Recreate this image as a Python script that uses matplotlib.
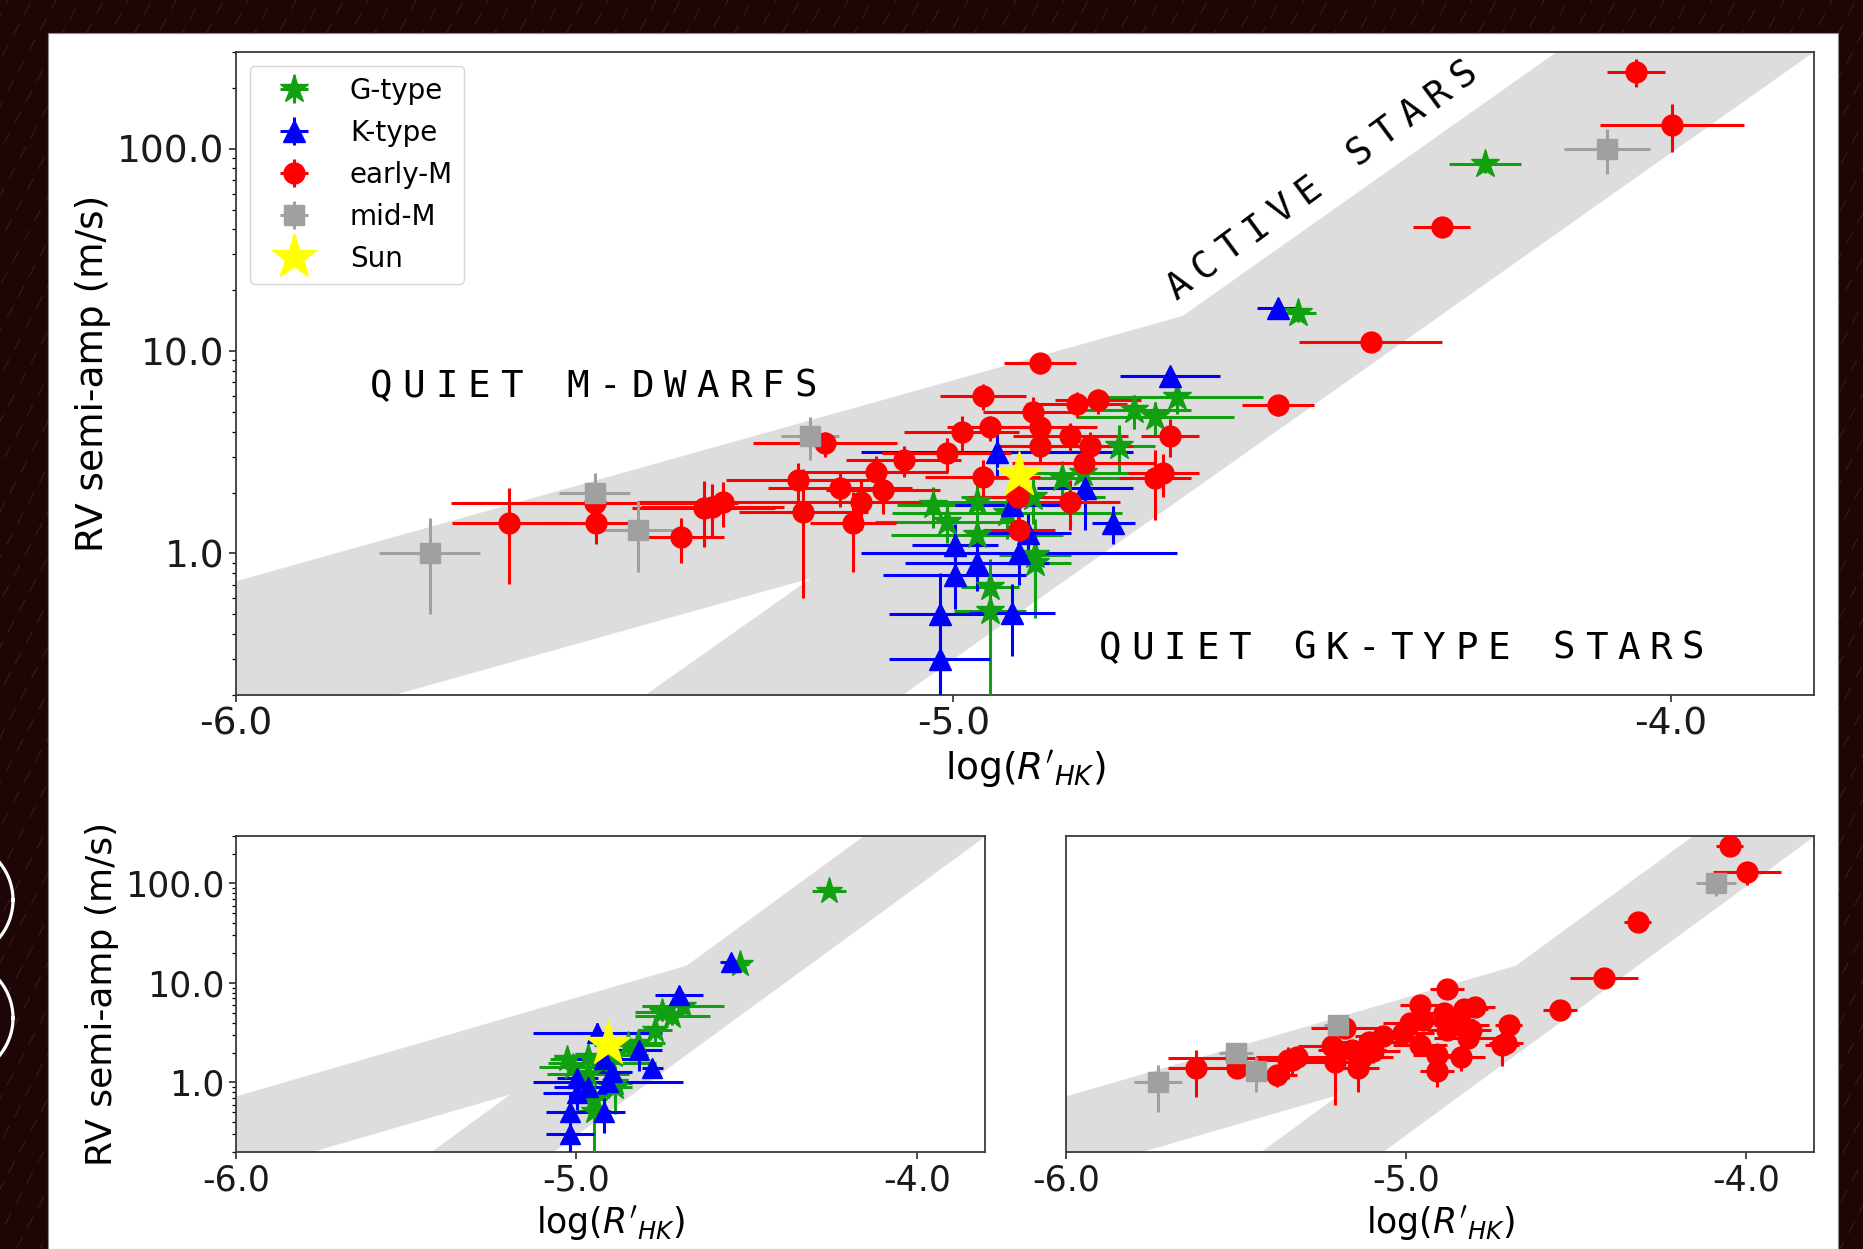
import numpy as np
import matplotlib
matplotlib.use("Agg")
import matplotlib.pyplot as plt
from matplotlib.patches import Rectangle
from matplotlib.lines import Line2D
from matplotlib.ticker import FixedLocator, FixedFormatter, LogLocator, NullFormatter

plt.rcParams['axes.unicode_minus'] = False
plt.rcParams['font.family'] = ['DejaVu Sans']

# ---------------- data ----------------
# G-type stars
g_x = [-4.259, -4.519, -4.688, -4.748, -4.719, -4.769, -4.849, -4.819, -5.028,
       -4.967, -5.009, -4.925, -4.889, -4.967, -4.886, -4.886, -4.949, -4.949]
g_y = [84, 15.4, 5.9, 5.1, 4.7, 3.4, 2.37, 2.5, 1.74,
       1.8, 1.43, 1.58, 1.9, 1.23, 0.98, 0.9, 0.68, 0.52]
g_xe = [0.05, 0.025, 0.12, 0.08, 0.11, 0.05, 0.10, 0.08, 0.05,
        0.10, 0.10, 0.16, 0.10, 0.12, 0.05, 0.05, 0.04, 0.05]
g_ye = [8, 1.5, 1.0, 1.0, 0.9, 0.9, 0.5, 0.6, 0.4,
        0.4, 0.3, 0.4, 0.5, 0.3, 0.5, 0.3, 0.15, 0.42]

# K-type stars
k_x = [-4.547, -4.698, -4.939, -4.816, -4.918, -4.777, -4.896, -4.998, -4.908,
       -4.967, -4.998, -5.019, -4.918, -5.019]
k_y = [16.3, 7.5, 3.17, 2.1, 1.74, 1.41, 1.26, 1.1, 1.0,
       0.9, 0.78, 0.50, 0.51, 0.30]
k_xe = [0.03, 0.07, 0.19, 0.067, 0.08, 0.03, 0.06, 0.06, 0.22,
        0.10, 0.10, 0.07, 0.06, 0.07]
k_ye = [1.2, 0.8, 0.8, 0.8, 0.4, 0.3, 0.3, 0.3, 0.3,
        0.25, 0.25, 0.3, 0.2, 0.28]

# early-M dwarfs
em_x = [-4.048, -3.998, -4.319, -4.418, -4.547, -4.879, -4.959, -4.889, -4.828,
        -4.798, -4.988, -4.949, -4.879, -4.837, -4.879, -4.809, -4.698, -5.009,
        -5.069, -4.818, -4.707, -4.719, -4.959, -4.910, -4.837, -4.908, -5.108,
        -5.098, -5.158, -5.217, -5.129, -5.209, -5.140, -5.179, -5.321, -5.336,
        -5.348, -5.380, -5.498, -5.500, -5.619]
em_y = [239, 131, 41, 11.1, 5.4, 8.7, 6.0, 5.0, 5.5,
        5.7, 4.0, 4.2, 4.2, 3.8, 3.4, 3.4, 3.8, 3.13,
        2.9, 2.8, 2.5, 2.36, 2.39, 1.9, 1.8, 1.31, 2.53,
        2.06, 2.1, 2.3, 1.8, 1.6, 1.41, 3.5, 1.8, 1.70,
        1.68, 1.2, 1.41, 1.78, 1.41]
em_xe = [0.04, 0.10, 0.04, 0.10, 0.05, 0.05, 0.06, 0.07, 0.07,
         0.06, 0.08, 0.06, 0.08, 0.08, 0.06, 0.06, 0.04, 0.09,
         0.08, 0.10, 0.05, 0.05, 0.08, 0.07, 0.07, 0.05, 0.10,
         0.08, 0.10, 0.10, 0.09, 0.09, 0.06, 0.10, 0.12, 0.10,
         0.10, 0.06, 0.07, 0.20, 0.08]
em_ye = [37, 35, 4, 1.2, 0.6, 1.0, 0.9, 0.9, 0.8,
         0.8, 0.8, 0.6, 0.7, 0.6, 0.6, 0.6, 0.8, 0.6,
         0.5, 0.6, 0.6, 0.9, 0.5, 0.6, 0.5, 0.4, 0.5,
         0.5, 0.4, 0.5, 0.5, 1.0, 0.6, 0.5, 0.45, 0.5,
         0.6, 0.3, 0.3, 0.3, 0.7]

# mid-M dwarfs
mm_x = [-5.730, -5.500, -5.440, -5.200, -4.088]
mm_y = [1.0, 2.0, 1.31, 3.8, 100]
mm_xe = [0.07, 0.05, 0.06, 0.04, 0.06]
mm_ye = [0.5, 0.5, 0.5, 0.9, 25]

# the Sun
sun_x = [-4.908]
sun_y = [2.45]

# bands: log10(K) = slope * log(R'HK) + intercept
GK_SLOPE, GK_B_UP, GK_B_LO = 2.5, 12.874, 11.977
M_SLOPE, M_B_UP, M_B_LO = 0.993, 5.824, 5.043

x_ticks = [-6.0, -5.0, -4.0]
x_ticklabels = ["-6.0", "-5.0", "-4.0"]
y_ticks = [1.0, 10.0, 100.0]
y_ticklabels = ["1.0", "10.0", "100.0"]
legend_order = ['G-type', 'K-type', 'early-M', 'mid-M', 'Sun']

# ---------------- figure ----------------
W, H = 1863, 1249
fig = plt.figure(figsize=(W / 100, H / 100), dpi=100, facecolor='#1d0605')


def fr(x0, y0, x1, y1):
    return [x0 / W, 1 - y1 / H, (x1 - x0) / W, (y1 - y0) / H]


# wooden background streaks
ang = np.radians(62)
for i, x0 in enumerate(np.arange(-800, 1950, 24)):
    xs = np.array([x0, x0 + 1500 * np.cos(ang)])
    ys = np.array([H, H - 1500 * np.sin(ang)])
    fig.add_artist(Line2D(xs / W, 1 - ys / H, transform=fig.transFigure,
                          color='#6a3a2c', lw=0.8, alpha=0.4,
                          ls=((i * 7) % 17, (12, 9)), zorder=-6))

# white slide panel
fig.add_artist(Rectangle((48 / W, 0), 1790 / W, (H - 33) / H, transform=fig.transFigure,
                         facecolor='white', edgecolor='#8a8a8a', lw=0.8, zorder=-4))
# partial white rings at the left edge of the slide
t = np.linspace(0, 2 * np.pi, 200)
for cy in (900, 1018):
    px = -46 + 59 * np.cos(t)
    py = cy + 59 * np.sin(t)
    fig.add_artist(Line2D(px / W, 1 - py / H, transform=fig.transFigure,
                          color='white', lw=2.3, zorder=-3))

axm = fig.add_axes(fr(236, 52, 1814, 695))
axl = fig.add_axes(fr(236, 836, 985, 1152))
axr = fig.add_axes(fr(1066, 836, 1814, 1152))

BAND = '#dddddd'
C_G, C_K, C_EM, C_MM, C_SUN = '#10a010', '#0000ff', '#ff0000', '#a0a0a0', '#ffff00'


def draw_bands(ax):
    xg = np.linspace(-6.0, -3.8, 300)
    ax.fill_between(xg, 10 ** (GK_SLOPE * xg + GK_B_LO), 10 ** (GK_SLOPE * xg + GK_B_UP),
                    color=BAND, lw=0, zorder=1)
    xk = (GK_B_UP - M_B_UP) / (M_SLOPE - GK_SLOPE)
    xm = np.linspace(-6.0, xk, 300)
    ax.fill_between(xm, 10 ** (M_SLOPE * xm + M_B_LO), 10 ** (M_SLOPE * xm + M_B_UP),
                    color=BAND, lw=0, zorder=1)


def style(ax, fs, show_y=True):
    ax.set_xlim(-6.0, -3.8)
    ax.set_yscale('log')
    ax.set_ylim(0.2, 300)
    ax.xaxis.set_major_locator(FixedLocator(x_ticks))
    ax.xaxis.set_major_formatter(FixedFormatter(x_ticklabels))
    ax.yaxis.set_major_locator(FixedLocator(y_ticks))
    ax.yaxis.set_major_formatter(FixedFormatter(y_ticklabels))
    ax.yaxis.set_minor_locator(LogLocator(base=10, subs=np.arange(2, 10)))
    ax.yaxis.set_minor_formatter(NullFormatter())
    ax.tick_params(labelsize=fs, colors='#1a1a1a', length=5, width=1.1)
    ax.tick_params(which='minor', length=3, width=0.9)
    if not show_y:
        ax.tick_params(axis='y', which='both', left=False, labelleft=False)
    for sp in ax.spines.values():
        sp.set_color('#3a3a3a')
        sp.set_linewidth(1.3)


def group(ax, x, y, xe, ye, fmt, color, ms, label):
    ax.errorbar(x, y, xerr=xe, yerr=ye, fmt=fmt, color=color, ecolor=color, ms=ms,
                elinewidth=2.2, capsize=0, label=label, zorder=3)


def sun(ax):
    ax.plot(sun_x, sun_y, ls='none', marker='*', color=C_SUN, ms=34, label='Sun', zorder=5)


# main panel
draw_bands(axm)
group(axm, g_x, g_y, g_xe, g_ye, '*', C_G, 21, 'G-type')
group(axm, k_x, k_y, k_xe, k_ye, '^', C_K, 16, 'K-type')
group(axm, em_x, em_y, em_xe, em_ye, 'o', C_EM, 15, 'early-M')
group(axm, mm_x, mm_y, mm_xe, mm_ye, 's', C_MM, 14, 'mid-M')
sun(axm)
style(axm, 27)
axm.set_xlabel(r"log($R'_{HK}$)", fontsize=27)
axm.set_ylabel("RV semi-amp (m/s)", fontsize=27)
hs, ls = axm.get_legend_handles_labels()
hmap = dict(zip(ls, hs))
axm.legend([hmap[k] for k in legend_order], legend_order, loc='upper left',
           fontsize=20, labelspacing=0.5, handlelength=2.4)

# bottom-left: G and K
draw_bands(axl)
group(axl, g_x, g_y, g_xe, g_ye, '*', C_G, 20, 'G-type')
group(axl, k_x, k_y, k_xe, k_ye, '^', C_K, 15, 'K-type')
sun(axl)
style(axl, 25)
axl.set_xlabel(r"log($R'_{HK}$)", fontsize=25)
axl.set_ylabel("RV semi-amp (m/s)", fontsize=26)

# bottom-right: M dwarfs
draw_bands(axr)
group(axr, em_x, em_y, em_xe, em_ye, 'o', C_EM, 15, 'early-M')
group(axr, mm_x, mm_y, mm_xe, mm_ye, 's', C_MM, 14, 'mid-M')
style(axr, 25, show_y=False)
axr.set_xlabel(r"log($R'_{HK}$)", fontsize=25)


# region annotations with wide letter spacing
def spaced_text(s, cx, cy, pitch, angle, fs):
    th = np.radians(angle)
    cap = 0.729 * fs * 100 / 72
    for i, ch in enumerate(s):
        if ch == ' ':
            continue
        px = cx + i * pitch * np.cos(th) + 0.5 * cap * np.sin(th)
        py = cy - i * pitch * np.sin(th) + 0.5 * cap * np.cos(th)
        fig.text(px / W, 1 - py / H, ch, fontsize=fs, family='DejaVu Sans Mono',
                 rotation=angle, rotation_mode='anchor', ha='center', va='baseline',
                 color='black', zorder=6)


spaced_text("QUIET M-DWARFS", 381, 383, 32.7, 0, 27)
spaced_text("QUIET GK-TYPE STARS", 1110, 645, 32.4, 0, 27)
spaced_text("ACTIVE STARS", 1177, 283, 32.2, 36.5, 27)

fig.savefig("out.png", dpi=100, facecolor=fig.get_facecolor())
